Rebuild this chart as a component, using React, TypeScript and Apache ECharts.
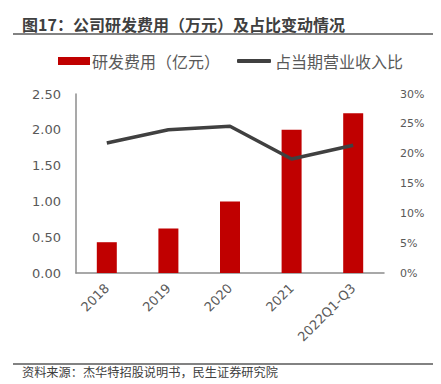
import React, { useEffect, useRef } from "react";
import * as echarts from "echarts";

const categories = ["2018", "2019", "2020", "2021", "2022Q1-Q3"];
const rdExpense = [0.43, 0.62, 1.0, 2.0, 2.23];
const rdRatio = [0.218, 0.24, 0.246, 0.191, 0.214];
const leftTicks = { min: 0, max: 2.5, interval: 0.5 };
const rightTicks = { min: 0, max: 0.3, interval: 0.05 };

const FONT = "'Noto Sans CJK SC', 'Noto Sans', sans-serif";
const NUMFONT = "'DejaVu Sans', sans-serif";

export default function App() {
  const ref = useRef<HTMLDivElement>(null);
  useEffect(() => {
    if (!ref.current) return;
    const chart = echarts.init(ref.current, undefined, { renderer: "svg" });
    chart.setOption({
      animation: false,
      textStyle: { fontFamily: FONT },
      grid: { left: 76, right: 57, top: 94, bottom: 111, containLabel: false },
      legend: [
        {
          left: 58,
          top: 53,
          padding: 0,
          itemWidth: 32,
          itemHeight: 8,
          textStyle: { fontSize: 16, color: "#595959", fontFamily: FONT, padding: [0, 0, 0, -3] },
          data: [{ name: "研发费用（亿元）", icon: "rect" }],
        },
        {
          left: 237,
          top: 53,
          padding: 0,
          itemWidth: 34,
          itemHeight: 4,
          textStyle: { fontSize: 16, color: "#595959", fontFamily: FONT, padding: [0, 0, 0, -1] },
          data: [{ name: "占当期营业收入比", icon: "roundRect" }],
        },
      ],
      xAxis: {
        type: "category",
        data: categories,
        axisTick: { show: false },
        axisLine: { lineStyle: { color: "#8c8c8c", width: 1.5 } },
        axisLabel: {
          rotate: 45,
          fontSize: 13,
          fontFamily: NUMFONT,
          color: "#595959",
          margin: 13,
          interval: 0,
        },
      },
      yAxis: [
        {
          type: "value",
          ...leftTicks,
          axisLine: { show: true, lineStyle: { color: "#8c8c8c", width: 1.5 } },
          axisTick: { show: false },
          splitLine: { show: false },
          axisLabel: {
            fontSize: 13,
            fontFamily: NUMFONT,
            color: "#595959",
            margin: 15,
            formatter: (v: number) => v.toFixed(2),
          },
        },
        {
          type: "value",
          ...rightTicks,
          axisLine: { show: false },
          axisTick: { show: false },
          splitLine: { show: false },
          axisLabel: {
            fontSize: 11,
            fontFamily: NUMFONT,
            color: "#595959",
            margin: 16,
            formatter: (v: number) => Math.round(v * 100) + "%",
          },
        },
      ],
      series: [
        {
          name: "研发费用（亿元）",
          type: "bar",
          data: rdExpense,
          barWidth: 20,
          itemStyle: { color: "#C00000" },
        },
        {
          name: "占当期营业收入比",
          type: "line",
          yAxisIndex: 1,
          data: rdRatio,
          symbol: "none",
          lineStyle: { color: "#404040", width: 3.5 },
          itemStyle: { color: "#404040" },
        },
      ],
      graphic: [
        {
          type: "text",
          left: 22,
          top: 16,
          style: {
            text: "图17：公司研发费用（万元）及占比变动情况",
            fontSize: 16,
            fontWeight: "bold",
            fill: "#404040",
            fontFamily: FONT,
          },
        },
        {
          type: "line",
          shape: { x1: 13, y1: 34, x2: 433, y2: 34 },
          style: { stroke: "#595959", lineWidth: 1.5 },
        },
        {
          type: "line",
          shape: { x1: 13, y1: 364, x2: 433, y2: 364 },
          style: { stroke: "#595959", lineWidth: 1.5 },
        },
        {
          type: "text",
          left: 22,
          top: 366,
          style: {
            text: "资料来源：杰华特招股说明书，民生证券研究院",
            fontSize: 12.2,
            fill: "#404040",
            fontFamily: FONT,
          },
        },
      ],
    });
    return () => chart.dispose();
  }, []);
  return (
    <div
      ref={ref}
      style={{ position: "fixed", left: 0, top: 0, width: 441, height: 384, background: "#fff" }}
    />
  );
}
